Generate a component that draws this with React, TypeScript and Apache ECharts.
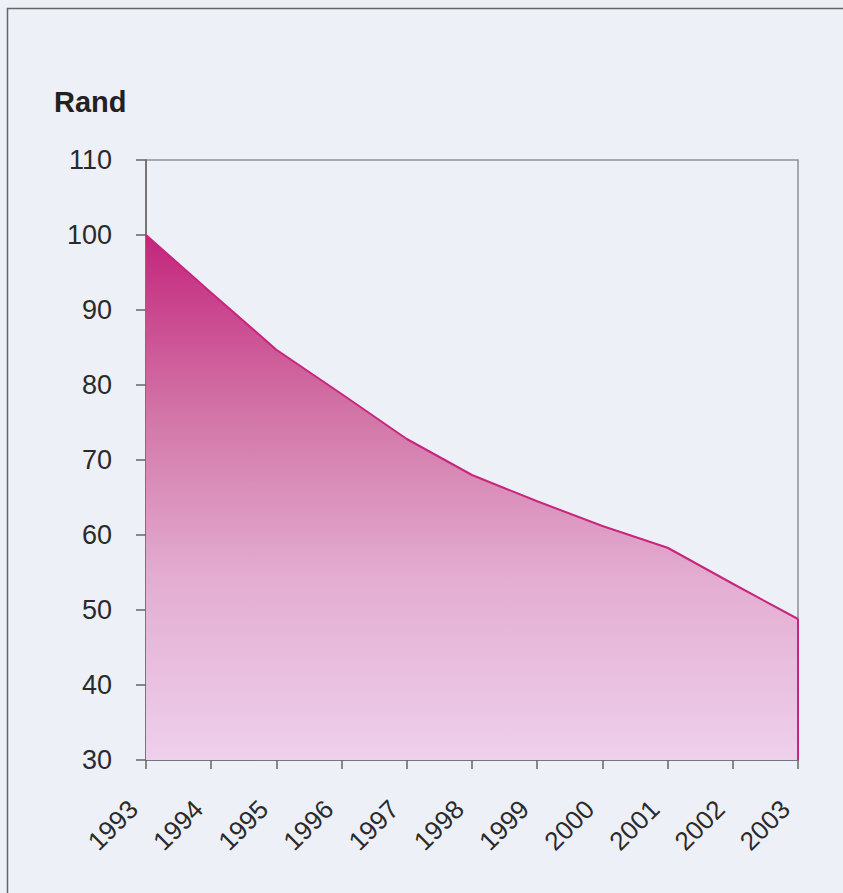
import React, { useEffect, useRef } from "react";
import * as echarts from "echarts";

const years = ["1993", "1994", "1995", "1996", "1997", "1998", "1999", "2000", "2001", "2002", "2003"];
const values = [100, 92.3, 84.7, 78.8, 72.8, 68.0, 64.5, 61.2, 58.3, 53.5, 48.8];
const yTicks = { min: 30, max: 110, interval: 10 };
const unitLabel = "Rand";

export default function App() {
  const ref = useRef<HTMLDivElement>(null);
  useEffect(() => {
    const chart = echarts.init(ref.current!, null, { renderer: "svg" });
    const last = years.length - 1;
    const font = "'Liberation Sans', Arial, sans-serif";
    chart.setOption({
      animation: false,
      backgroundColor: "#eef0f8",
      graphic: [
        {
          type: "rect",
          shape: { x: 7.5, y: 8.5, width: 900, height: 900 },
          style: { fill: "none", stroke: "#666", lineWidth: 1.5 },
          silent: true,
        },
        {
          type: "text",
          left: 54,
          top: 87,
          style: {
            text: unitLabel,
            font: "bold 29px 'Liberation Sans', Arial, sans-serif",
            fill: "#222",
          },
        },
      ],
      grid: {
        left: 146,
        right: 45,
        top: 160,
        bottom: 133,
        show: true,
        borderColor: "#8e8e96",
        borderWidth: 1.5,
        backgroundColor: "transparent",
      },
      xAxis: {
        type: "category",
        data: years,
        boundaryGap: false,
        axisLine: { lineStyle: { color: "#666", width: 1.5 } },
        axisTick: { show: true, length: 9, lineStyle: { color: "#666", width: 1.5 } },
        axisLabel: {
          rotate: 45,
          margin: 32,
          padding: [0, 18, 0, 0],
          fontSize: 26,
          color: "#2a2a2a",
          fontFamily: font,
        },
        splitLine: { show: false },
      },
      yAxis: {
        type: "value",
        min: yTicks.min,
        max: yTicks.max,
        interval: yTicks.interval,
        axisLine: { show: true, lineStyle: { color: "#666", width: 1.5 } },
        axisTick: { show: true, length: 10, lineStyle: { color: "#666", width: 1.5 } },
        axisLabel: {
          fontSize: 27,
          margin: 34,
          color: "#2a2a2a",
          fontFamily: font,
        },
        splitLine: { show: false },
      },
      series: [
        {
          type: "line",
          data: values,
          symbol: "none",
          lineStyle: { color: "#c8267e", width: 2 },
          areaStyle: {
            opacity: 1,
            color: new echarts.graphic.LinearGradient(0, 0, 0, 1, [
              { offset: 0, color: "#c4257c" },
              { offset: 0.35, color: "#d277a8" },
              { offset: 0.65, color: "#e3acd0" },
              { offset: 1, color: "#eed0ec" },
            ]),
          },
          markLine: {
            silent: true,
            symbol: "none",
            label: { show: false },
            lineStyle: { color: "#c8267e", width: 2, type: "solid" },
            data: [
              [
                { coord: [years[last], yTicks.min] },
                { coord: [years[last], values[last]] },
              ],
            ],
          },
        },
      ],
    });
    return () => chart.dispose();
  }, []);
  return (
    <div
      ref={ref}
      style={{ position: "fixed", left: 0, top: 0, width: 843, height: 893 }}
    />
  );
}
